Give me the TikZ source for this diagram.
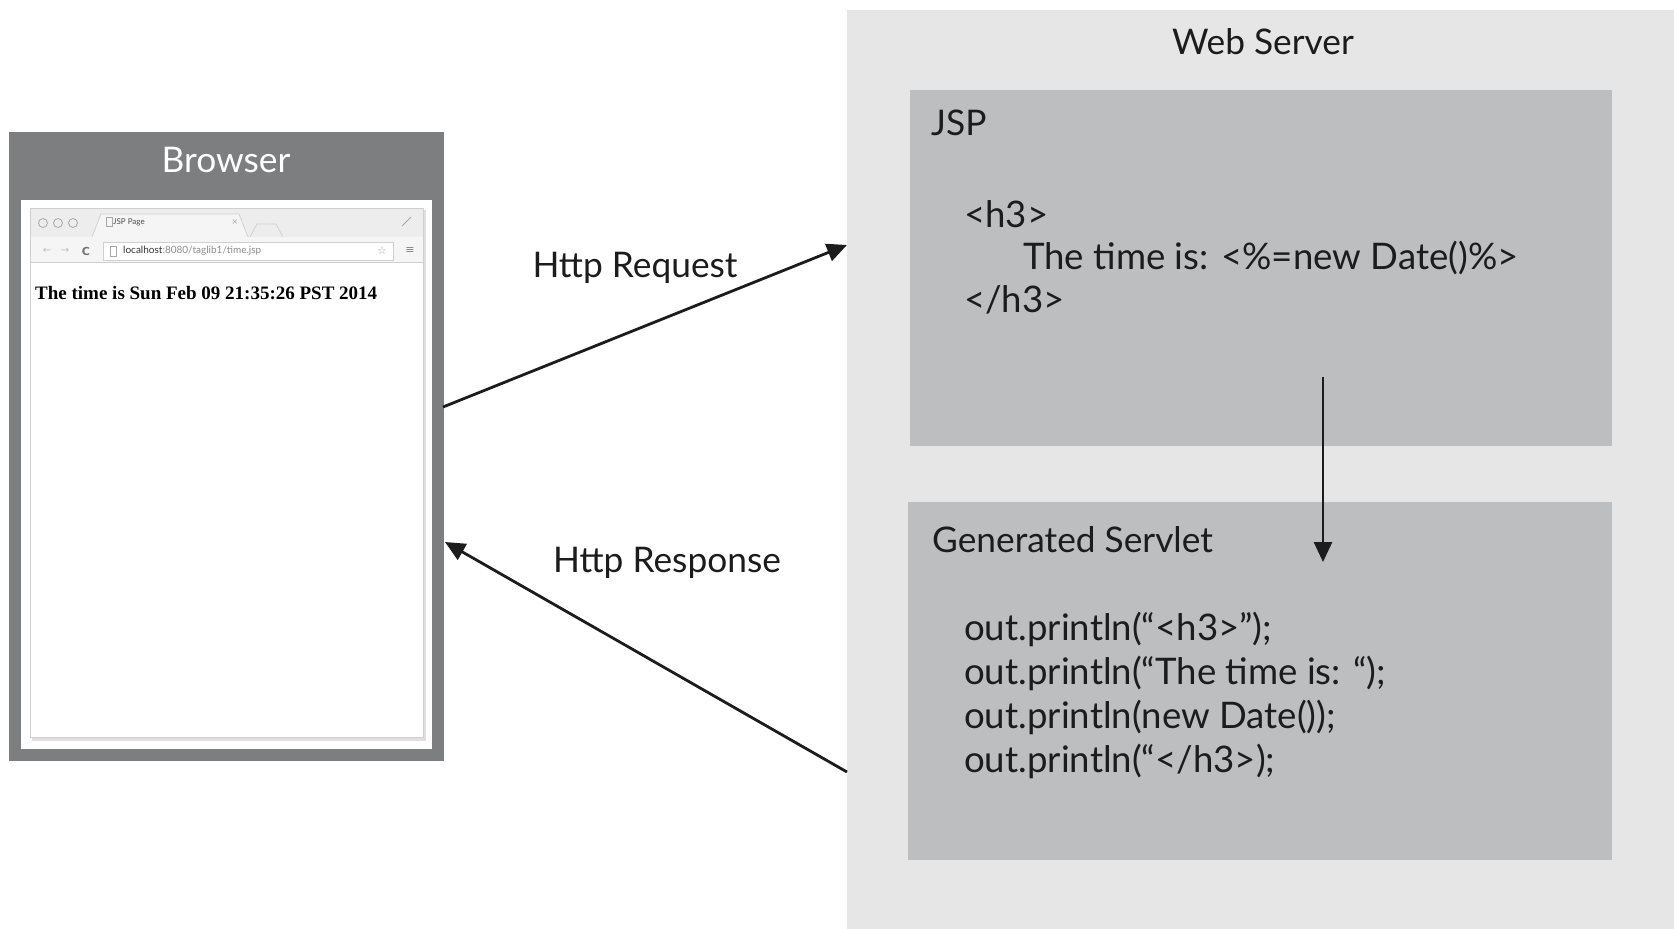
\documentclass[tikz,border=0pt]{standalone}
\usepackage{fontspec}
\setmainfont{Lato}
\newfontfamily\shotserif{Liberation Serif}
\newfontfamily\symfont{DejaVu Sans}
\usetikzlibrary{arrows.meta}
\definecolor{framegray}{HTML}{7C7E7F}
\definecolor{srvgray}{HTML}{E6E6E6}
\definecolor{panelgray}{HTML}{BCBEBF}
\definecolor{ink}{HTML}{1C1C1C}
\definecolor{chrome}{HTML}{EDEDED}
\definecolor{chromeline}{HTML}{CFCFCF}
\definecolor{iconGray}{HTML}{A8A8A8}
\begin{document}
\begin{tikzpicture}[x=1pt,y=-1pt,
  arr/.style={line width=2.8pt, draw=ink, -{Triangle[width=18pt,length=20pt]}},
  bigtext/.style={font=\fontsize{35.3}{40}\selectfont, text=ink, inner sep=0pt},
  codetext/.style={font=\fontsize{36.6}{42}\selectfont, text=ink, inner sep=0pt, anchor=base west},
  titletext/.style={bigtext, anchor=base west},
  boxnode/.style={anchor=north west, inner sep=0pt, outer sep=0pt, draw=none}]
\useasboundingbox (0,0) rectangle (1674,929);
\fill[white] (0,0) rectangle (1674,929);

% ---------- Web server ----------
\node[boxnode, fill=srvgray, minimum width=827pt, minimum height=919pt] (server) at (847,10) {};
\node[bigtext, anchor=base] (servertitle) at (1263,54) {Web Server};

\node[boxnode, fill=panelgray, minimum width=702pt, minimum height=356pt] (jsp) at (910,90) {};
\node[titletext] (jsptitle) at (931,135) {JSP};
\node[codetext] (jspA) at (964,227) {<h3>};
\node[codetext] (jspB) at (1023,269) {The time is: <\%=new Date()\%>};
\node[codetext] (jspC) at (964,312) {</h3>};

\node[boxnode, fill=panelgray, minimum width=704pt, minimum height=358pt] (servlet) at (908,502) {};
\node[titletext] (servlettitle) at (932,552) {Generated Servlet};
\node[codetext] (svA) at (964,640) {out.println(“<h3>”);};
\node[codetext] (svB) at (964,684) {out.println(“The time is: “);};
\node[codetext] (svC) at (964,728) {out.println(new Date());};
\node[codetext] (svD) at (964,772) {out.println(“</h3>);};

\coordinate (jspout) at (1323,377);
\coordinate (servletin) at (1323,562);
\draw[arr] (jspout) -- (servletin);

% ---------- Browser ----------
\node[boxnode, fill=framegray, minimum width=435pt, minimum height=629pt] (browser) at (9,132) {};
\node[bigtext, anchor=base, text=white] (browsertitle) at (226,172) {Browser};
\node[boxnode, fill=white, minimum width=411pt, minimum height=549pt] (screen) at (21,200) {};

% browser window screenshot
\fill[black!12] (32,210) rectangle (426,741);
\fill[white] (30,208) rectangle (423,737);
\draw[chromeline, line width=0.8pt] (30,208) rectangle (423,737);
\fill[chrome] (30.5,208.5) rectangle (422.5,262);
\fill[white!96!black] (92,237) -- (101,214) -- (239,214) -- (248,237) -- cycle;
\draw[chromeline, line width=0.7pt] (92,237) -- (101,214) -- (239,214) -- (248,237);
\draw[chromeline, line width=0.7pt] (250,237) -- (257,224) -- (276,224) -- (283,237);
\foreach \cx in {43,58,73} \draw[iconGray, line width=0.8pt] (\cx,223) circle (4.5);
\draw[iconGray, line width=0.7pt] (106,217) rectangle (112,226);
\node[font=\fontsize{8}{9}\selectfont, text=black!70, anchor=west, inner sep=0pt] (tablabel) at (113,222) {JSP Page};
\node[font=\symfont\fontsize{8}{9}\selectfont, text=iconGray, inner sep=0pt] (tabx) at (235,222) {×};
\draw[iconGray, line width=0.8pt] (402,226) -- (411,217);
\draw[chromeline, line width=0.7pt] (30.5,237) -- (92,237);
\draw[chromeline, line width=0.7pt] (248,237) -- (422.5,237);
\fill[white!96!black] (30.5,237.4) rectangle (422.5,262);
\draw[chromeline, line width=0.7pt] (30.5,262) -- (422.5,262);
\node[font=\symfont\fontsize{10}{11}\selectfont, text=black!25, inner sep=0pt] (backic) at (47,251) {←};
\node[font=\symfont\fontsize{10}{11}\selectfont, text=black!25, inner sep=0pt] (fwdic) at (65,251) {→};
\node[font=\symfont\bfseries\fontsize{11}{12}\selectfont, text=black!55, inner sep=0pt] (reloadic) at (86,251) {C};
\draw[chromeline, fill=white, line width=0.7pt] (103,242) rectangle (393,260);
\draw[iconGray, line width=0.7pt] (110,246) rectangle (116,256);
\node[font=\fontsize{10}{11}\selectfont, anchor=west, inner sep=0pt] (urltext) at (123,251) {\textcolor{black!80}{localhost}\textcolor{black!45}{:8080/taglib1/time.jsp}};
\node[font=\symfont\fontsize{11}{12}\selectfont, text=black!35, inner sep=0pt] (staric) at (382,251) {☆};
\node[font=\symfont\fontsize{11}{12}\selectfont, text=black!50, inner sep=0pt] (menuic) at (410,251) {≡};
\node[font=\shotserif\bfseries\fontsize{19}{22}\selectfont, text=black, anchor=base west, inner sep=0pt] (pagetext) at (35,299) {The time is Sun Feb 09 21:35:26 PST 2014};

% ---------- Connectors ----------
\coordinate (reqstart) at (443,407);
\coordinate (reqend) at (847,245);
\draw[arr] (reqstart) -- (reqend);
\node[bigtext, anchor=base] (reqlabel) at (635,277) {Http Request};

\coordinate (resstart) at (847,772);
\coordinate (resend) at (445,542);
\draw[arr] (resstart) -- (resend);
\node[bigtext, anchor=base] (reslabel) at (667,572) {Http Response};
\end{tikzpicture}
\end{document}
